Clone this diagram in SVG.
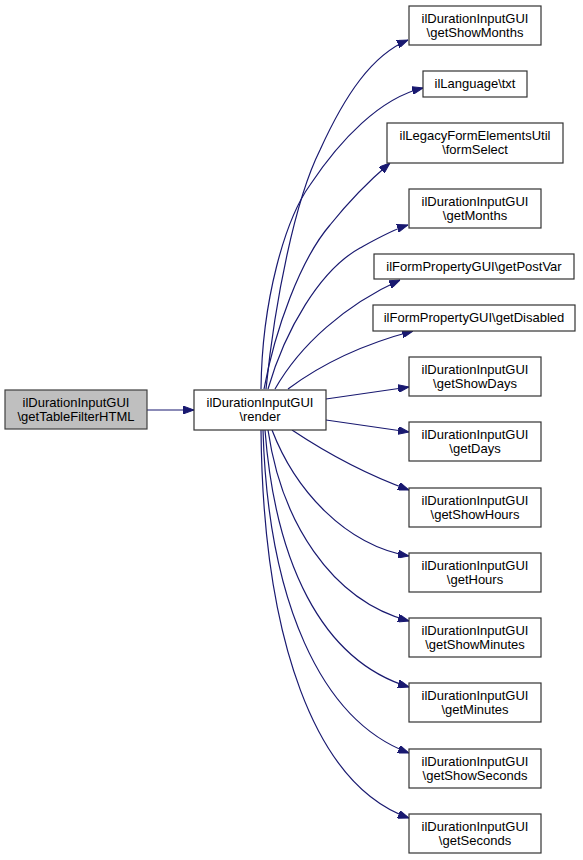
<svg xmlns="http://www.w3.org/2000/svg" width="583" height="860" viewBox="0 0 583 860">
<style>
.n rect{fill:#ffffff;stroke:#333333;stroke-width:1.2}
#start rect{fill:#bfbfbf;stroke:#404040}
text{font-family:"Liberation Sans",Arial,sans-serif;font-size:13px;fill:#000;text-anchor:middle}
.e path{fill:none;stroke:#191970;stroke-width:1.2;marker-end:url(#ah)}
</style>
<defs>
<marker id="ah" markerUnits="userSpaceOnUse" markerWidth="11" markerHeight="8" refX="11" refY="4" orient="auto">
<path d="M0,0 L11,4 L0,8 z" fill="#191970" stroke="#191970" stroke-width="1"/>
</marker>
</defs>
<rect width="583" height="860" fill="#ffffff"/>
<g class="e" id="edges">
<path d="M147,410 L194,410"/>
<path d="M266,389 C275,300 295,200 320,150 C345,95 372,55 408,40"/>
<path d="M261,389 C262,300 285,220 310,185 C340,140 380,98 423,88"/>
<path d="M264,389 C275,330 300,260 330,225 C350,200 370,180 390,163"/>
<path d="M268,389 C285,330 320,270 360,248 C378,238 392,230 408,225"/>
<path d="M275,389 C300,345 345,305 400,280"/>
<path d="M288,389 C320,365 360,345 413,331"/>
<path d="M326,399 L409,387"/>
<path d="M326,420 L409,432"/>
<path d="M292,430 C325,452 365,474 409,490"/>
<path d="M272,430 C295,490 345,545 409,556"/>
<path d="M268,430 C281,520 330,600 409,621"/>
<path d="M265,430 C275,560 320,660 409,687"/>
<path d="M263,430 C268,600 320,720 409,753"/>
<path d="M261,430 C263,640 315,785 409,818"/>
</g>
<g class="n" id="start"><rect x="5" y="390" width="142" height="39"/><text x="76" y="407">ilDurationInputGUI</text><text x="76" y="421">\getTableFilterHTML</text></g>
<g class="n" id="render"><rect x="194" y="390" width="132" height="40"/><text x="260" y="407">ilDurationInputGUI</text><text x="260" y="421">\render</text></g>
<g class="n" id="getShowMonths"><rect x="409" y="6" width="132" height="39"/><text x="475" y="23">ilDurationInputGUI</text><text x="475" y="37">\getShowMonths</text></g>
<g class="n" id="txt"><rect x="423" y="71" width="104" height="26"/><text x="475" y="88">ilLanguage\txt</text></g>
<g class="n" id="formSelect"><rect x="387" y="123" width="176" height="40"/><text x="475" y="140">ilLegacyFormElementsUtil</text><text x="475" y="154">\formSelect</text></g>
<g class="n" id="getMonths"><rect x="409" y="189" width="132" height="39"/><text x="475" y="206">ilDurationInputGUI</text><text x="475" y="220">\getMonths</text></g>
<g class="n" id="getPostVar"><rect x="374" y="254" width="200" height="25"/><text x="474" y="271">ilFormPropertyGUI\getPostVar</text></g>
<g class="n" id="getDisabled"><rect x="373" y="305" width="202" height="26"/><text x="474" y="322">ilFormPropertyGUI\getDisabled</text></g>
<g class="n" id="getShowDays"><rect x="409" y="357" width="132" height="39"/><text x="475" y="374">ilDurationInputGUI</text><text x="475" y="388">\getShowDays</text></g>
<g class="n" id="getDays"><rect x="409" y="422" width="132" height="39"/><text x="475" y="439">ilDurationInputGUI</text><text x="475" y="453">\getDays</text></g>
<g class="n" id="getShowHours"><rect x="409" y="488" width="132" height="39"/><text x="475" y="505">ilDurationInputGUI</text><text x="475" y="519">\getShowHours</text></g>
<g class="n" id="getHours"><rect x="409" y="553" width="132" height="39"/><text x="475" y="570">ilDurationInputGUI</text><text x="475" y="584">\getHours</text></g>
<g class="n" id="getShowMinutes"><rect x="409" y="618" width="132" height="39"/><text x="475" y="635">ilDurationInputGUI</text><text x="475" y="649">\getShowMinutes</text></g>
<g class="n" id="getMinutes"><rect x="409" y="683" width="132" height="39"/><text x="475" y="700">ilDurationInputGUI</text><text x="475" y="714">\getMinutes</text></g>
<g class="n" id="getShowSeconds"><rect x="409" y="749" width="132" height="39"/><text x="475" y="766">ilDurationInputGUI</text><text x="475" y="780">\getShowSeconds</text></g>
<g class="n" id="getSeconds"><rect x="409" y="814" width="132" height="39"/><text x="475" y="831">ilDurationInputGUI</text><text x="475" y="845">\getSeconds</text></g>
</svg>
